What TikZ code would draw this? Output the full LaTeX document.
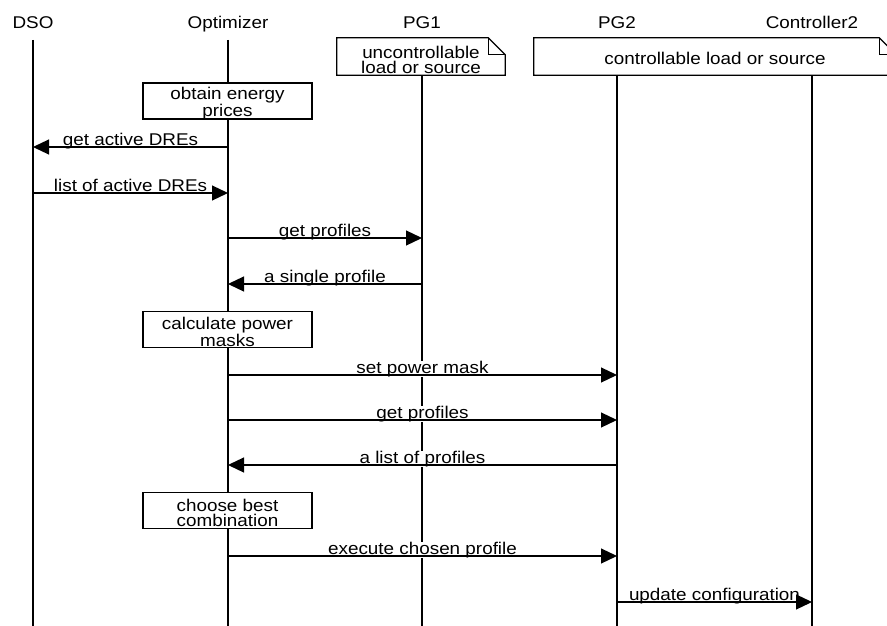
\documentclass[tikz,border=0pt]{standalone}
\usepackage{fontspec}
\setmainfont{Liberation Sans}[FakeStretch=1.11]
\usetikzlibrary{arrows.meta, positioning}

\begin{document}
\begin{tikzpicture}[
    x=1pt, y=-1pt,
    font=\fontsize{17}{15}\selectfont,
    head/.style={anchor=base, inner sep=0pt},
    life/.style={line width=1.2pt},
    act/.style={draw, fill=white, line width=1.2pt, minimum width=169pt, minimum height=36pt, inner sep=0pt},
    note/.style={fill=white, minimum height=37pt, inner sep=0pt},
    intext/.style={align=center, inner sep=0pt, yshift=#1},
    fold/.style={line width=1.2pt},
    msg/.style={line width=1.2pt, -{Triangle[length=16pt, width=15pt]}},
    lbl/.style={midway, anchor=base, yshift=2pt, inner sep=0pt, fill=white, behind path}
]
\useasboundingbox (0,0) rectangle (887,626);

% Instances
\node[head] (dso) at (33,28.5) {DSO};
\node[head] (opt) at (228,28.5) {Optimizer};
\node[head] (pg1) at (422,28.5) {PG1};
\node[head] (pg2) at (617,28.5) {PG2};
\node[head] (ctl) at (812,28.5) {Controller2};

% Notes
\node[note, minimum width=168pt, label={[intext=-3pt]center:uncontrollable\\load or source}] (unote) at (421,56.5) {};
\node[note, minimum width=362pt, label={[intext=-2pt]center:controllable load or source}] (cnote) at (715,56.5) {};
\draw[fold] (unote.south west) -- (unote.north west) -- ([xshift=-17pt]unote.north east)
    -- ([yshift=-17pt]unote.north east) -- (unote.south east) -- cycle;
\draw[fold] ([xshift=-17pt]unote.north east) -- ([xshift=-17pt, yshift=-17pt]unote.north east)
    -- ([yshift=-17pt]unote.north east);
\draw[fold] (cnote.south west) -- (cnote.north west) -- ([xshift=-17pt]cnote.north east)
    -- ([yshift=-17pt]cnote.north east) -- (cnote.south east) -- cycle;
\draw[fold] ([xshift=-17pt]cnote.north east) -- ([xshift=-17pt, yshift=-17pt]cnote.north east)
    -- ([yshift=-17pt]cnote.north east);

% Lifelines
\draw[life] (dso |- 0,40) -- (dso |- 0,626);
\draw[life] (opt |- 0,40) -- (opt |- 0,626);
\draw[life] (pg1 |- unote.south) -- (pg1 |- 0,626);
\draw[life] (pg2 |- cnote.south) -- (pg2 |- 0,626);
\draw[life] (ctl |- cnote.south) -- (ctl |- 0,626);

% Local actions
\node[act, label={[intext=-2.5pt]center:obtain energy\\prices}] (prices) at (227.5,101) {};
\node[act, label={[intext=-2.5pt]center:calculate power\\masks}] (masks) at (227.5,329.5) {};
\node[act, label={[intext=-2.5pt]center:choose best\\combination}] (best) at (227.5,510.5) {};

% Messages
\draw[msg] (opt |- 0,147) -- node[lbl] {get active DREs} (dso |- 0,147);
\draw[msg] (dso |- 0,193) -- node[lbl] {list of active DREs} (opt |- 0,193);
\draw[msg] (opt |- 0,238) -- node[lbl] {get profiles} (pg1 |- 0,238);
\draw[msg] (pg1 |- 0,284) -- node[lbl] {a single profile} (opt |- 0,284);
\draw[msg] (opt |- 0,375) -- node[lbl] {set power mask} (pg2 |- 0,375);
\draw[msg] (opt |- 0,420) -- node[lbl] {get profiles} (pg2 |- 0,420);
\draw[msg] (pg2 |- 0,465) -- node[lbl] {a list of profiles} (opt |- 0,465);
\draw[msg] (opt |- 0,556) -- node[lbl] {execute chosen profile} (pg2 |- 0,556);
\draw[msg] (pg2 |- 0,602) -- node[lbl] {update configuration} (ctl |- 0,602);

\end{tikzpicture}
\end{document}
